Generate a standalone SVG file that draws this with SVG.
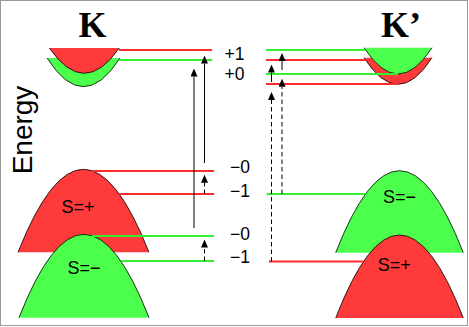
<svg xmlns="http://www.w3.org/2000/svg" width="469" height="327" viewBox="0 0 469 327">
<style>
.bg{fill:#ffffff;stroke:#999999;stroke-width:1}
.rf{fill:#ff3a3a;stroke:none}
.gf{fill:#4cff4c;stroke:none}
.ol{fill:none;stroke:#000000;stroke-width:0.8}
.rl{stroke:#ff2a2a;stroke-width:2;fill:none}
.gl{stroke:#33ee33;stroke-width:2;fill:none}
.ar{stroke:#000000;stroke-width:1;fill:none;marker-end:url(#ah)}
.da{stroke-dasharray:4.5,3}
.lab{font-family:"Liberation Sans",Arial,sans-serif;font-size:17.5px;fill:#000}
.sp{font-family:"Liberation Sans",Arial,sans-serif;font-size:18px;fill:#000;text-anchor:middle}
.kk{font-family:"Liberation Serif","Times New Roman",serif;font-size:36px;font-weight:bold;fill:#000}
.en{font-family:"Liberation Sans",Arial,sans-serif;font-size:28px;fill:#000;text-anchor:middle}
</style>
<defs>
<marker id="ah" viewBox="0 0 8 7" markerWidth="8" markerHeight="7" refX="0" refY="3.5" orient="auto" markerUnits="userSpaceOnUse">
<path d="M0,0 L8,3.5 L0,7 Z" fill="#000"/>
</marker>
</defs>
<rect class="bg" x="0.5" y="0.5" width="467" height="325"/>

<g id="title-K"><text class="kk" x="92.5" y="36.7" text-anchor="middle">K</text></g>
<g id="title-Kp"><text class="kk" x="381" y="36.7">K’</text></g>
<g id="energy-axis"><text class="en" transform="translate(32,130) rotate(-90)">Energy</text></g>

<g id="K-conduction-green">
<path class="gf" d="M47,58 Q83.5,115.4 120,58 Z"/>
<path class="ol" d="M47,58 Q83.5,115.4 120,58"/>
</g>
<g id="K-conduction-red">
<path class="rf" d="M49.3,48 Q84.3,98.6 119.3,48 Z"/>
<path class="ol" d="M49.3,48 Q84.3,98.6 119.3,48"/>
</g>

<g id="Kp-conduction-red">
<path class="rf" d="M364,57.7 Q398,110.9 432,57.7 Z"/>
<path class="ol" d="M364,57.7 Q398,110.9 432,57.7"/>
</g>
<g id="Kp-conduction-green">
<path class="gf" d="M364,47.7 Q398,100.3 432,47.7 Z"/>
<path class="ol" d="M364,47.7 Q398,100.3 432,47.7"/>
</g>

<g id="K-valence-red">
<path class="rf" d="M18,252.3 Q83.5,86.3 149,252.3 Z"/>
<path class="ol" d="M18,252.3 Q83.5,86.3 149,252.3"/>
<text class="sp" x="78" y="213">S=+</text>
</g>
<g id="K-valence-green">
<path class="gf" d="M19,317.7 Q84,151 149,317.7 Z"/>
<path class="ol" d="M19,317.7 Q84,151 149,317.7"/>
<text class="sp" x="84" y="274">S=−</text>
</g>

<g id="Kp-valence-green">
<path class="gf" d="M335.7,252.7 Q399.5,88.7 463.3,252.7 Z"/>
<path class="ol" d="M335.7,252.7 Q399.5,88.7 463.3,252.7"/>
<text class="sp" x="399.5" y="202.7">S=−</text>
</g>
<g id="Kp-valence-red">
<path class="rf" d="M335.7,318 Q399.5,152 463.3,318 Z"/>
<path class="ol" d="M335.7,318 Q399.5,152 463.3,318"/>
<text class="sp" x="394.3" y="270.7">S=+</text>
</g>

<g id="levels">
<line class="rl" x1="119" y1="50" x2="212" y2="50"/>
<line class="gl" x1="119" y1="60" x2="212" y2="60"/>
<line class="rl" x1="93" y1="171" x2="214" y2="171"/>
<line class="rl" x1="119" y1="194" x2="214" y2="194"/>
<line class="gl" x1="92" y1="236" x2="214" y2="236"/>
<line class="gl" x1="121" y1="261" x2="214" y2="261"/>
<line class="gl" x1="266" y1="50" x2="365" y2="50"/>
<line class="rl" x1="266" y1="60" x2="366" y2="60"/>
<line class="gl" x1="266" y1="74" x2="398" y2="74"/>
<line class="rl" x1="266" y1="84" x2="398" y2="84"/>
<line class="gl" x1="266.7" y1="194" x2="365.5" y2="194"/>
<line class="rl" x1="269" y1="261.5" x2="363.5" y2="261.5"/>
</g>

<g id="level-labels">
<text class="lab" x="224.5" y="59.5">+1</text>
<text class="lab" x="224.5" y="80">+0</text>
<text class="lab" x="230" y="173">−0</text>
<text class="lab" x="230" y="196.5">−1</text>
<text class="lab" x="230" y="240">−0</text>
<text class="lab" x="230" y="263">−1</text>
</g>

<g id="connectors">
<line class="ar" x1="204.5" y1="163" x2="204.5" y2="63.5"/>
<line class="ar" x1="194" y1="228" x2="194" y2="76.5"/>
<line class="ar da" x1="204.5" y1="194" x2="204.5" y2="182.7"/>
<line class="ar da" x1="204.5" y1="261" x2="204.5" y2="247.5"/>
<line class="ar" x1="271.5" y1="82" x2="271.5" y2="72.5"/>
<line class="ar" x1="282" y1="70" x2="282" y2="61"/>
<line class="ar da" x1="282" y1="194" x2="282" y2="86.7"/>
<line class="ar da" x1="271.5" y1="261.5" x2="271.5" y2="100"/>
</g>
</svg>
